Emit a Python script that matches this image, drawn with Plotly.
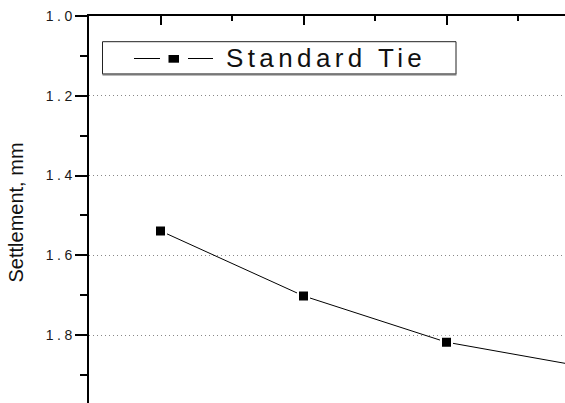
import plotly.graph_objects as go

# Settlement measured at successive load stages for the standard tie
stage = [1, 2, 3, 4]
settlement = [1.539, 1.702, 1.818, 1.882]
series_name = "Standard Tie"

y_ticks = [1.0, 1.2, 1.4, 1.6, 1.8]
y_tick_text = ["1.0", "1.2", "1.4", "1.6", "1.8"]
y_title = "Settlement, mm"

W, H = 565, 403
ML, MT = 89, 16
PW, PH = W - ML, H - MT
PX_PER_X = 143.0      # pixels per stage unit
PX_PER_Y = 398.75     # pixels per mm

FONT = "Liberation Sans, Arial, sans-serif"


def px(x):
    return (x - ML) / PW


def py(y):
    return 1 - (y - MT) / PH


def spaced(t, s):
    return f'<span style="letter-spacing:{s}px">{t}</span>'


def spaced_tick(t, s):
    # widen the gaps between characters without trailing space after the last one
    return spaced(t[:-1], s) + t[-1]


fig = go.Figure()
fig.add_trace(go.Scatter(
    x=stage, y=settlement, mode="lines+markers", name=series_name,
    line=dict(color="black", width=1),
    marker=dict(symbol="square", size=11, color="black",
                line=dict(color="white", width=2)),
    showlegend=False,
))

# legend box drawn by hand: line - marker - line sample plus label
shapes = [
    dict(type="rect", xref="paper", yref="paper",
         x0=px(102.5), x1=px(456), y0=py(74), y1=py(41.7),
         line=dict(color="#222", width=1), fillcolor="white", layer="above"),
    dict(type="line", xref="paper", yref="paper",
         x0=px(102.5), x1=px(456.5), y0=py(74.5), y1=py(74.5),
         line=dict(color="#777", width=2), layer="above"),
    dict(type="line", xref="paper", yref="paper",
         x0=px(134), x1=px(160), y0=py(58.5), y1=py(58.5),
         line=dict(color="black", width=1), layer="above"),
    dict(type="line", xref="paper", yref="paper",
         x0=px(188), x1=px(213), y0=py(58.5), y1=py(58.5),
         line=dict(color="black", width=1), layer="above"),
    dict(type="rect", xref="paper", yref="paper",
         x0=px(168.5), x1=px(179), y0=py(62.7), y1=py(55),
         line=dict(width=0), fillcolor="black", layer="above"),
]

annotations = [
    dict(text=spaced(series_name, 4.4), xref="paper", yref="paper",
         x=px(224), y=py(58), xanchor="left", yanchor="middle",
         showarrow=False, font=dict(family=FONT, size=26, color="#111")),
    dict(text=y_title, xref="paper", yref="paper", textangle=-90,
         x=px(15.5), y=py(213), xanchor="center", yanchor="middle",
         showarrow=False, font=dict(family=FONT, size=20, color="#111")),
]

fig.update_layout(
    width=W, height=H,
    margin=dict(l=ML, r=0, t=MT, b=0, pad=0),
    paper_bgcolor="white", plot_bgcolor="white",
    shapes=shapes, annotations=annotations,
    font=dict(family=FONT, color="#111"),
    xaxis=dict(
        side="top", range=[0.5, 0.5 + PW / PX_PER_X],
        showline=True, linecolor="black", linewidth=2,
        ticks="inside", ticklen=9, tickwidth=2, tickcolor="black",
        tick0=1, dtick=1, showticklabels=False, showgrid=False,
        zeroline=False,
        minor=dict(ticks="inside", ticklen=5, tickwidth=2,
                   tickcolor="black", dtick=0.5, tick0=0.5, showgrid=False),
    ),
    yaxis=dict(
        range=[1.0 + PH / PX_PER_Y, 1.0],
        showline=True, linecolor="black", linewidth=2,
        ticks="outside", ticklen=12, tickwidth=2, tickcolor="black",
        tickvals=y_ticks, ticktext=[spaced_tick(t, 3.5) for t in y_tick_text],
        tickfont=dict(family=FONT, size=14, color="#1a1a1a"),
        showgrid=True, gridcolor="#888", gridwidth=1, griddash="1px,3px",
        zeroline=False,
        minor=dict(ticks="outside", ticklen=7, tickwidth=2,
                   tickcolor="black", dtick=0.2, tick0=1.1, showgrid=False),
    ),
)

fig.write_html("out.html")
